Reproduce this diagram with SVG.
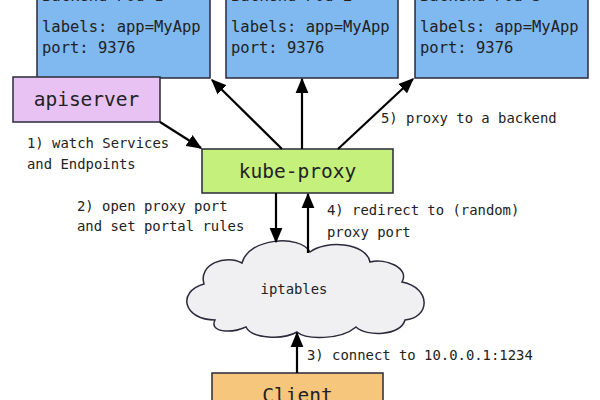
<svg xmlns="http://www.w3.org/2000/svg" width="600" height="400" viewBox="0 0 600 400">
<style>
.box{stroke:#2a2a3a;stroke-width:1.5}
.pod{fill:#80b8f0}
.t{font-family:"DejaVu Sans Mono","Liberation Mono",monospace;fill:#222}
.lbl{font-size:13.9px}
.pt{font-size:15.5px}
.big{font-size:19.5px}
.edge{stroke:#000;stroke-width:2.2;fill:none;marker-end:url(#ah)}
</style>
<defs>
<marker id="ah" viewBox="0 0 12 10" refX="11" refY="5" markerWidth="7" markerHeight="6" orient="auto" markerUnits="strokeWidth">
<path d="M0,0 L12,5 L0,10 Z" fill="#000"/>
</marker>
</defs>
<rect width="600" height="400" fill="#fff"/>
<g id="pod1">
<rect class="box pod" x="37" y="-30" width="173" height="108"/>
<text class="t pt" x="42" y="1">Backend Pod 1</text>
<text class="t pt" x="42" y="32">labels: app=MyApp</text>
<text class="t pt" x="42" y="53">port: 9376</text>
</g>
<g id="pod2">
<rect class="box pod" x="226" y="-30" width="172" height="108"/>
<text class="t pt" x="231" y="1">Backend Pod 2</text>
<text class="t pt" x="231" y="32">labels: app=MyApp</text>
<text class="t pt" x="231" y="53">port: 9376</text>
</g>
<g id="pod3">
<rect class="box pod" x="415" y="-30" width="173" height="108"/>
<text class="t pt" x="420" y="1">Backend Pod 3</text>
<text class="t pt" x="420" y="32">labels: app=MyApp</text>
<text class="t pt" x="420" y="53">port: 9376</text>
</g>
<g id="apiserver">
<rect class="box" fill="#e8c2f2" x="13" y="77" width="147" height="45"/>
<text class="t big" x="86.5" y="106" text-anchor="middle">apiserver</text>
</g>
<g id="kubeproxy">
<rect class="box" fill="#c6f07c" x="202" y="149" width="191" height="44"/>
<text class="t big" x="297.5" y="178" text-anchor="middle">kube-proxy</text>
</g>
<g id="iptables">
<path class="box" fill="#f0f0f2" d="M215,320 C184,320 176,292 204,284 C198,264 226,254 242,263 C248,238 300,234 310,252 C325,240 366,242 370,262 C386,258 410,268 402,282 C432,288 430,318 405,320 C401,336 366,337 356,327 C341,340 306,340 297,332 C283,340 252,339 246,327 C230,334 209,332 215,320 Z"/>
<text class="t lbl" x="294" y="294" text-anchor="middle">iptables</text>
</g>
<g id="client">
<rect class="box" fill="#f5c67c" x="212" y="373" width="171" height="50"/>
<text class="t big" x="297.5" y="402" text-anchor="middle">Client</text>
</g>
<g id="connectors">
<line class="edge" x1="160" y1="122" x2="201" y2="148"/>
<line class="edge" x1="282" y1="149" x2="212" y2="80"/>
<line class="edge" x1="302" y1="149" x2="302" y2="79"/>
<line class="edge" x1="338" y1="149" x2="413" y2="79"/>
<line class="edge" x1="276" y1="193" x2="276" y2="242"/>
<line class="edge" x1="308" y1="253" x2="308" y2="194"/>
<line class="edge" x1="297" y1="373" x2="297" y2="333"/>
</g>
<g id="labels">
<text class="t lbl" x="27" y="148">1) watch Services</text>
<text class="t lbl" x="27" y="169">and Endpoints</text>
<text class="t lbl" x="381" y="123">5) proxy to a backend</text>
<text class="t lbl" x="77" y="211">2) open proxy port</text>
<text class="t lbl" x="77" y="231">and set portal rules</text>
<text class="t lbl" x="327" y="215">4) redirect to (random)</text>
<text class="t lbl" x="327" y="237">proxy port</text>
<text class="t lbl" x="307" y="360">3) connect to 10.0.0.1:1234</text>
</g>
</svg>
